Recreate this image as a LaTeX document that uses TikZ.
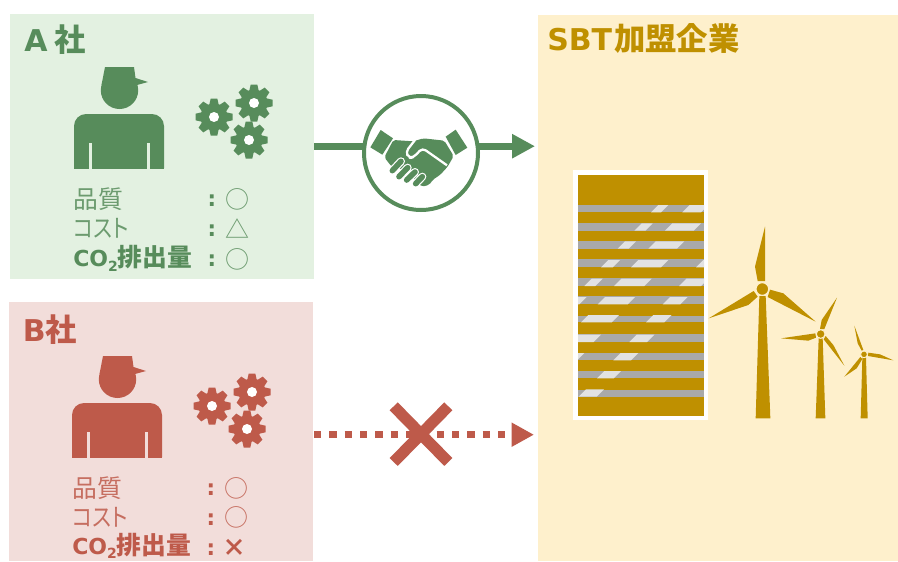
\documentclass[tikz,border=0pt]{standalone}
\usepackage{fontspec}
\setmainfont{Noto Sans CJK JP}
\newfontfamily\jpp[RawFeature=+palt]{Noto Sans CJK JP}
\newfontfamily\latb{DejaVu Sans}
\usetikzlibrary{arrows.meta}
\definecolor{grn}{HTML}{578C5B}
\definecolor{redd}{HTML}{BE5A4A}
\definecolor{gold}{HTML}{BF9000}
\definecolor{bgA}{HTML}{E3F1E1}
\definecolor{bgB}{HTML}{F2DDDA}
\definecolor{bgC}{HTML}{FEF0CC}
\definecolor{stripe}{HTML}{A9A9A9}
\definecolor{glass}{HTML}{E2E2E2}
\colorlet{grnT}{grn!85!bgA}
\colorlet{redT}{redd!85!bgB}
\newcommand\hlat[1]{{\fontsize{22.5}{22.5}\latb #1}}
\newcommand\colat{{\fontsize{16.5}{16.5}\latb CO\raisebox{-.4ex}{\fontsize{10.5}{10.5}\latb 2}}}
\newcommand\kana{\jpp\scalebox{.85}[1]{コスト}}
\tikzset{
 panel/.style={inner sep=0pt,outer sep=0pt,anchor=north west},
 headtxt/.style={anchor=base west,inner sep=0pt,font=\fontsize{23.5}{23.5}\selectfont\bfseries},
 rowtxt/.style={anchor=base west,inner sep=0pt,font=\fontsize{18.6}{18.6}\selectfont},
 boldrow/.style={anchor=base west,inner sep=0pt,font=\fontsize{18.6}{18.6}\selectfont\bfseries},
 symtxt/.style={anchor=center,inner sep=0pt,font=\fontsize{18}{18}\selectfont},
 colonmark/.style={anchor=base,inner sep=0pt,font=\fontsize{16}{16}\latb\bfseries},
}
% person: offset x, offset y, colour, background
\newcommand\workerfig[4]{\begin{scope}[shift={(#1,#2)}]
 \fill[#3] (105,67)--(134,67)--(135.5,78)--(148,82)--(137,85)--(101.5,85)--cycle;
 \fill[#3] (119.5,90.3) circle[radius=18.7];
 \fill[#3,rounded corners=9pt] (74,180)--(74,114)--(164,114)--(164,180)--cycle;
 \fill[#4] (60,169) rectangle (180,185);
 \fill[#4] (89,143) rectangle (92,169);
 \fill[#4] (147,143) rectangle (150,169);
\end{scope}}
\newcommand\gearfig[3]{\begin{scope}[shift={(#1,#2)}]
 \fill[#3] (0,0) circle[radius=13.5];
 \foreach \a in {0,45,...,315}{
  \fill[#3,rotate=\a] (-5,-11)--(-3.3,-18.5)--(3.3,-18.5)--(5,-11)--cycle;}
 \fill[white] (0,0) circle[radius=5];
\end{scope}}
\begin{document}
\begin{tikzpicture}[x=.75pt,y=-.75pt]
\useasboundingbox (0,0) rectangle (898,561);
\fill[white] (0,0) rectangle (898,561);
\node[panel,fill=bgA,minimum width=228pt,minimum height=198.75pt] (panelA) at (10,14) {};
\node[panel,fill=bgB,minimum width=228pt,minimum height=194.25pt] (panelB) at (9,302) {};
\node[panel,fill=bgC,minimum width=270pt,minimum height=409.5pt] (panelC) at (538,15) {};
% titles
\node[headtxt,text=grn] (titleA) at (24,51) {\hlat{A}\hspace{5pt}社};
\node[headtxt,text=redd] (titleB) at (22.5,341) {\hlat{B}社};
\node[headtxt,text=gold] (titleC) at (547,50.5) {\hlat{SBT}\hspace{1.5pt}加盟企業};
% people and gears
\workerfig{0}{0}{grn}{bgA}
\workerfig{-2}{289}{redd}{bgB}
\gearfig{214}{117}{grn}\gearfig{254}{103}{grn}\gearfig{249}{140}{grn}
\gearfig{212}{406}{redd}\gearfig{252}{392}{redd}\gearfig{247}{429}{redd}
% A rows
\node[rowtxt,text=grnT] (a1) at (73,208) {品質};
\node[rowtxt,text=grnT] (a2) at (73,237.5) {\kana};
\node[boldrow,text=grn] (a3) at (73,266.5) {\colat 排出量};
\node[colonmark,text=grn] (ac1) at (212,206.5) {:};
\node[colonmark,text=grn] (ac2) at (212,236) {:};
\node[colonmark,text=grn] (ac3) at (212,266) {:};
\node[symtxt,text=grnT] (am1) at (237,199.5) {○};
\node[symtxt,text=grnT] (am2) at (237,229) {△};
\node[symtxt,text=grnT] (am3) at (237,259) {○};
% B rows
\node[rowtxt,text=redT] (b1) at (72,497) {品質};
\node[rowtxt,text=redT] (b2) at (72,526.5) {\kana};
\node[boldrow,text=redd] (b3) at (72,554) {\colat 排出量};
\node[colonmark,text=redd] (bc1) at (211,495.5) {:};
\node[colonmark,text=redd] (bc2) at (211,525) {:};
\node[colonmark,text=redd] (bc3) at (211,555) {:};
\node[symtxt,text=redT] (bm1) at (236,488) {○};
\node[symtxt,text=redT] (bm2) at (236,517) {○};
\node[symtxt,text=redd,font=\fontsize{18}{18}\selectfont\bfseries] (bm3) at (234,547.5) {×};
% green connector
\coordinate (gs) at (314,146.2);
\coordinate (ge) at (535,146.2);
\draw[grn,line width=5.5pt,-{Triangle[length=17.25pt,width=17.25pt]}] (gs) -- (ge);
\node[circle,draw=grn,fill=white,line width=3pt,minimum size=85.5pt,inner sep=0pt] (deal) at (421,153) {};
% handshake
\begin{scope}[shift={(365,120)},x=.25pt,y=-.25pt]
 \fill[grn] (47,30)--(84,55)--(52,104)--(16,82)--cycle;
 \fill[grn] (272,29)--(307,83)--(272,105)--(242,50)--cycle;
 \fill[grn,rounded corners=1.5pt] (85,60)--(145,64)--(175,55)--(238,62)--(266,108)--(248,140)--(225,165)--(205,178)--(192,195)--(170,200)--(120,150)--(80,140)--(58,112)--cycle;
 \draw[white,line width=6pt,line cap=round] (82,152)--(108,124) (102,170)--(128,143) (125,180)--(150,156) (152,191)--(172,170);
 \draw[grn,line width=4.2pt,line cap=round] (82,152)--(108,124) (102,170)--(128,143) (125,180)--(150,156) (152,191)--(172,170);
 \draw[white,line width=1.7pt,line join=round,rounded corners=3pt] (150,60)--(122,96)--(132,114)--(146,112)--(172,84)--(246,136);
\end{scope}
% red connector
\coordinate (rs) at (314,434.7);
\coordinate (re) at (534,434.7);
\draw[redd,line width=5.5pt,dash pattern=on 5.5pt off 6pt,-{Triangle[length=16.8pt,width=17pt]}] (rs) -- (re);
\coordinate (x1) at (393.7,406.3);
\coordinate (x2) at (448.3,462);
\coordinate (x3) at (448.3,406.3);
\coordinate (x4) at (393.7,462);
\draw[redd,line width=8.5pt] (x1)--(x2) (x3)--(x4);
% building
\fill[white] (573,170) rectangle (708,420);
\fill[gold] (578,175) rectangle (704,416);
\begin{scope}
\clip (578,175) rectangle (704,416);
\foreach \y/\h in {120/22,173/24,228/23,283/24,339/24,394/24,453/19,508/23,564/22,618/22,674/21}{
 \fill[stripe] (578,165+\y/3) rectangle (704,165+\y/3+\h/3);}
\begin{scope}[shift={(565,165)},x=.25pt,y=-.25pt]
 \foreach \a/\b/\yy in {258/310/142,352/430/142,208/263/197,300/408/197,158/213/251,250/358/251,108/165/307,198/310/307,393/440/307,58/113/363,147/260/363,342/430/363,15/65/418,98/210/418,293/368/418,48/162/472,243/320/472,15/108/531,193/268/531,15/58/586,145/220/586,96/168/640,41/117/695}{
  \fill[glass] (\a,\yy)--(\a+22,\yy-22)--(\b,\yy-22)--(\b-22,\yy)--cycle;}
\end{scope}
\end{scope}
% turbines
\begin{scope}[shift={(565,165)},x=.25pt,y=-.25pt]
 \fill[gold] (583,393)--(602,393)--(616,760)--(572,760)--cycle;
 \fill[gold] (600,185)--(570,305)--(578,348)--(600,348)--cycle;
 \fill[gold] (431,460)--(550,420)--(578,395)--(566,378)--cycle;
 \fill[gold] (752,470)--(655,385)--(615,374)--(608,396)--cycle;
 \fill[gold,draw=bgC,line width=.8pt] (592,372) circle[radius=19];
 \fill[gold] (761,520)--(773,520)--(781,760)--(752,760)--cycle;
 \fill[gold] (816,398)--(770,465)--(765,492)--(778,492)--cycle;
 \fill[gold] (648,520)--(730,527)--(753,518)--(751,505)--cycle;
 \fill[gold] (838,602)--(805,540)--(782,513)--(776,523)--cycle;
 \fill[gold,draw=bgC,line width=.7pt] (767,507) circle[radius=13];
 \fill[gold] (892,578)--(903,578)--(908,760)--(887,760)--cycle;
 \fill[gold] (868,482)--(878,535)--(890,557)--(895,555)--cycle;
 \fill[gold] (985,586)--(945,568)--(910,563)--(909,573)--cycle;
 \fill[gold] (838,635)--(875,610)--(892,582)--(886,576)--cycle;
 \fill[gold,draw=bgC,line width=.6pt] (897,568) circle[radius=10];
\end{scope}
\end{tikzpicture}
\end{document}
